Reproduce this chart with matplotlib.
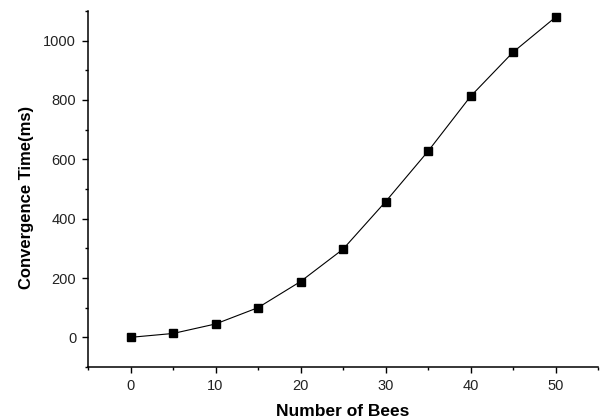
import matplotlib
matplotlib.use("Agg")
import matplotlib.pyplot as plt
from matplotlib.ticker import MultipleLocator

# Convergence time versus swarm size
bees = [0, 5, 10, 15, 20, 25, 30, 35, 40, 45, 50]
conv_time = [0, 13, 45, 100, 188, 297, 457, 627, 812, 961, 1079]

plt.rcParams['font.family'] = ['Liberation Sans', 'DejaVu Sans']

fig = plt.figure(figsize=(6.03, 4.19), dpi=100)
ax = fig.add_axes([88 / 603, 52 / 419, 510 / 603, 356 / 419])

ax.plot(bees, conv_time, color='black', linewidth=0.8,
        marker='s', markersize=6.3, markerfacecolor='black', markeredgecolor='black')

ax.set_xlim(-5, 55)
ax.set_ylim(-100, 1100)
ax.xaxis.set_major_locator(MultipleLocator(10))
ax.xaxis.set_minor_locator(MultipleLocator(5))
ax.yaxis.set_major_locator(MultipleLocator(200))
ax.yaxis.set_minor_locator(MultipleLocator(100))

for side in ['top', 'right']:
    ax.spines[side].set_visible(False)
for side in ['left', 'bottom']:
    ax.spines[side].set_linewidth(1.1)

ax.tick_params(which='major', direction='out', length=4.5, width=1.0,
               labelsize=10.5, colors='black', labelcolor='#222222', pad=4)
ax.tick_params(which='minor', direction='out', length=2.5, width=1.0)

ax.set_xlabel('Number of Bees', fontsize=12.5, fontweight='bold', labelpad=8)
ax.set_ylabel('Convergence Time(ms)', fontsize=12, fontweight='bold')
ax.yaxis.set_label_coords(-0.106, 0.475)

fig.savefig('out.png', dpi=100)
